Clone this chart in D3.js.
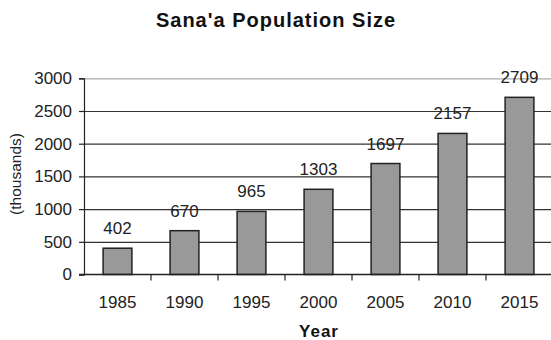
<!DOCTYPE html>
<html><head><meta charset="utf-8">
<script src="https://cdn.jsdelivr.net/npm/d3@7"></script>
<style>body{margin:0;background:#fff}svg{display:block}text{font-family:"Liberation Sans",Arial,sans-serif}</style>
</head><body><svg id="c" width="551" height="340"></svg>
<script>
const years = ["1985","1990","1995","2000","2005","2010","2015"];
const population = [402, 670, 965, 1303, 1697, 2157, 2709];
const yTicks = [0, 500, 1000, 1500, 2000, 2500, 3000];
const title = "Sana'a Population Size";
const xTitle = "Year";
const yTitle = "(thousands)";

const FONT = '"Liberation Sans",Arial,sans-serif';
const svg = d3.select("#c");
const pLeft = 84, pRight = 553, pTop = 78.3, pBottom = 274.5;
const x = d3.scaleBand().domain(years).range([pLeft, pRight]).paddingInner(0.57).paddingOuter(0.285);
const y = d3.scaleLinear().domain([0, 3000]).range([pBottom, pTop]);

// gridlines
const grid = svg.append("g").attr("transform", `translate(${pLeft},0)`)
  .call(d3.axisLeft(y).tickValues(yTicks.filter(d => d > 0)).tickSize(-(551 - pLeft)).tickFormat(""));
grid.select(".domain").remove();
grid.selectAll(".tick line").attr("stroke", d => d === 3000 ? "#aaa" : "#333").attr("stroke-width", 1.2);

// y axis
const ya = svg.append("g").attr("transform", `translate(${pLeft},0)`)
  .call(d3.axisLeft(y).tickValues(yTicks).tickSize(5).tickPadding(7).tickFormat(d3.format("d")));
ya.select(".domain").attr("stroke", "#222").attr("stroke-width", 1.2);
ya.selectAll(".tick line").attr("stroke", "#222").attr("stroke-width", 1.2);
ya.selectAll("text").attr("font-size", 17).attr("fill", "#222").style("font-family", FONT);

// bars
svg.append("g").selectAll("rect").data(population).join("rect")
  .attr("x", (d, i) => x(years[i]))
  .attr("width", x.bandwidth())
  .attr("y", d => y(d))
  .attr("height", d => pBottom - y(d))
  .attr("fill", "#999").attr("stroke", "#222").attr("stroke-width", 1.5);

// x axis
const xb = d3.scaleLinear().domain([0, years.length]).range([pLeft, pRight]);
svg.append("line").attr("x1", pLeft - 5).attr("x2", 551).attr("y1", pBottom).attr("y2", pBottom)
  .attr("stroke", "#222").attr("stroke-width", 1.5);
svg.append("g").selectAll("line").data(d3.range(1, years.length)).join("line")
  .attr("x1", d => xb(d)).attr("x2", d => xb(d))
  .attr("y1", pBottom).attr("y2", pBottom + 6).attr("stroke", "#222").attr("stroke-width", 1.2);
svg.append("g").selectAll("text").data(years).join("text")
  .attr("x", d => x(d) + x.bandwidth() / 2).attr("y", 308)
  .attr("text-anchor", "middle").attr("font-size", 17).attr("fill", "#222").text(d => d);

// value labels
svg.append("g").selectAll("text").data(population).join("text")
  .attr("x", (d, i) => x(years[i]) + x.bandwidth() / 2)
  .attr("y", d => y(d) - 14)
  .attr("text-anchor", "middle").attr("font-size", 17).attr("fill", "#222").text(d => d);

// titles
svg.append("text").attr("x", 276).attr("y", 27).attr("text-anchor", "middle")
  .attr("font-size", 20).attr("letter-spacing", 1).attr("font-weight", "bold").attr("fill", "#111").text(title);
svg.append("text").attr("x", 319).attr("y", 337).attr("text-anchor", "middle")
  .attr("font-size", 17).attr("letter-spacing", 1).attr("font-weight", "bold").attr("fill", "#111").text(xTitle);
svg.append("text").attr("transform", "translate(21,174) rotate(-90)").attr("text-anchor", "middle")
  .attr("font-size", 15.5).attr("fill", "#222").text(yTitle);
</script></body></html>
